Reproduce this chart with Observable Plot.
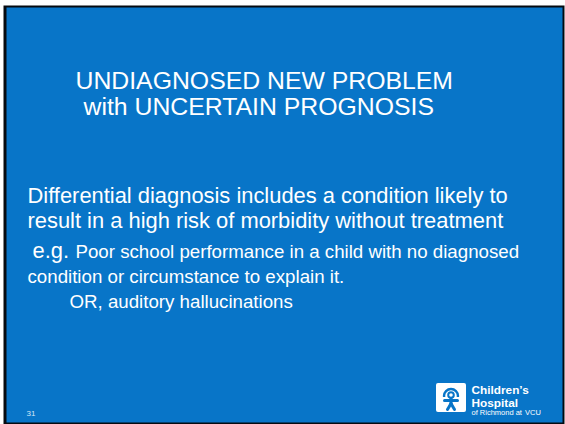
<!DOCTYPE html>
<html>
<head>
<meta charset="utf-8">
<script src="https://cdn.jsdelivr.net/npm/d3@7"></script>
<script src="https://cdn.jsdelivr.net/npm/@observablehq/plot@0.6"></script>
<style>
  html, body { margin: 0; padding: 0; background: #ffffff; }
  #chart svg { display: block; }
</style>
</head>
<body>
<div id="chart"></div>
<script>
// ---- Slide content ----
const titleLines = ["UNDIAGNOSED NEW PROBLEM", "with UNCERTAIN PROGNOSIS"];
const bodyLines = [
  "Differential diagnosis includes a condition likely to",
  "result in a high risk of morbidity without treatment"
];
const examplePrefix = ["e.g."];
const exampleLines = [
  "Poor school performance in a child with no diagnosed",
  "condition or circumstance to explain it.",
  "OR, auditory hallucinations"
];
const slideNumber = ["31"];
const logoLines = ["Children\u2019s", "Hospital"];
const logoSub = ["of Richmond at", "VCU"];

// ---- Layout (pixel space of the 565x424 slide) ----
const W = 565, H = 424;
const BLUE = "#0875c8";
const FONT = "Liberation Sans, Arial, Helvetica, sans-serif";

const titleData = titleLines.map((t, i) => ({t, x: [75, 83][i], y: [88, 114][i]}));
const bodyData = bodyLines.map((t, i) => ({t, x: 27, y: [202, 227][i]}));
const egData = examplePrefix.map(t => ({t, x: 32, y: 257}));
const exData = exampleLines.map((t, i) => ({t, x: [75, 27, 69][i], y: [257, 282, 307][i]}));
const numData = slideNumber.map(t => ({t, x: 26, y: 415}));
const logoData = logoLines.map((t, i) => ({t, x: 471, y: [393.5, 406][i]}));
const subData = logoSub.map((t, i) => ({t, x: [471, 524.5][i], y: 414.5, bold: i === 1}));

const baseline = {textAnchor: "start", lineAnchor: "bottom", fill: "white", fontFamily: FONT};

const chart = Plot.plot({
  width: W,
  height: H,
  margin: 0,
  x: {domain: [0, W], range: [0, W], axis: null},
  y: {domain: [0, H], range: [0, H], axis: null},
  style: {background: "white", fontFamily: FONT},
  marks: [
    // slide border and background
    Plot.frame({fill: "#050a10", insetLeft: 3, insetTop: 5, insetRight: 1, insetBottom: 0}),
    Plot.frame({fill: BLUE, insetLeft: 6, insetTop: 7, insetRight: 3, insetBottom: 2}),

    // title
    Plot.text(titleData, {...baseline, x: "x", y: "y", text: "t", fontSize: 24.8}),
    // body
    Plot.text(bodyData, {...baseline, x: "x", y: "y", text: "t", fontSize: 21.9}),
    Plot.text(egData, {...baseline, x: "x", y: "y", text: "t", fontSize: 21.9}),
    Plot.text(exData, {...baseline, x: "x", y: "y", text: "t", fontSize: 18.7}),
    // slide number
    Plot.text(numData, {...baseline, x: "x", y: "y", text: "t", fontSize: 8, fill: "#d6e8f7"}),

    // logo icon
    Plot.rect([{x1: 436, x2: 466, y1: 383, y2: 412}], {x1: "x1", x2: "x2", y1: "y1", y2: "y2", fill: "white", rx: 2}),
    Plot.dot([{x: 450.5, y: 395.5}], {x: "x", y: "y", r: 7, stroke: BLUE, strokeWidth: 2.4, fill: "none"}),
    Plot.rect([{x1: 440, x2: 461, y1: 397, y2: 404}], {x1: "x1", x2: "x2", y1: "y1", y2: "y2", fill: "white"}),
    Plot.dot([{x: 450.5, y: 394.5}], {x: "x", y: "y", r: 2.8, stroke: BLUE, strokeWidth: 2, fill: "none"}),
    Plot.link([
      {x1: 444, y1: 400, x2: 457, y2: 400},
      {x1: 450.5, y1: 398, x2: 450.5, y2: 404},
      {x1: 450.5, y1: 403, x2: 447, y2: 409},
      {x1: 450.5, y1: 403, x2: 454, y2: 409}
    ], {x1: "x1", y1: "y1", x2: "x2", y2: "y2", stroke: BLUE, strokeWidth: 3, strokeLinecap: "round"}),

    // logo text
    Plot.text(logoData, {...baseline, x: "x", y: "y", text: "t", fontSize: 11.8, fontWeight: "bold"}),
    Plot.text(subData, {...baseline, x: "x", y: "y", text: "t", fontSize: 7.5,
      fontWeight: d => d.bold ? "bold" : "normal"})
  ]
});

document.getElementById("chart").appendChild(chart);
</script>
</body>
</html>
